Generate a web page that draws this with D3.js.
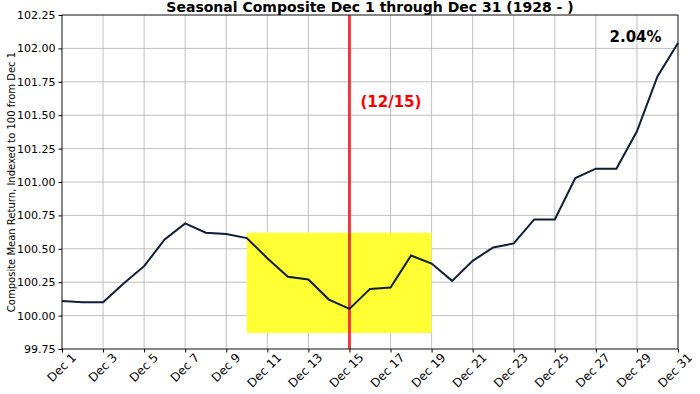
<!DOCTYPE html>
<html>
<head>
<meta charset="utf-8">
<script src="https://cdn.jsdelivr.net/npm/d3@7"></script>
<style>
	body { margin: 0; background: #fff; }
	svg text { font-family: "DejaVu Sans", sans-serif; }
</style>
</head>
<body>
<div id="chart"></div>
<script>
// Day of December and composite value (indexed to 100 on Dec 1)
const days = d3.range(1, 32);
const values = [
	100.11, 100.10, 100.10, 100.24, 100.37, 100.57, 100.69, 100.62, 100.61, 100.58,
	100.43, 100.29, 100.27, 100.12, 100.05, 100.20, 100.21, 100.45, 100.39, 100.26,
	100.41, 100.51, 100.54, 100.72, 100.72, 101.03, 101.10, 101.10, 101.38, 101.79,
	102.04
];
const xTicks = d3.range(1, 32, 2);
const yTicks = [99.75, 100.00, 100.25, 100.50, 100.75, 101.00, 101.25, 101.50, 101.75, 102.00, 102.25];
const highlight = {from: 10, to: 19, low: 99.87, high: 100.62};
const markerDay = 15;
const markerLabel = "(12/15)";
const totalLabel = "2.04%";

const W = 700, H = 394;
const margin = {top: 15, right: 22, bottom: 45, left: 62};
const width = W - margin.left - margin.right;
const height = H - margin.top - margin.bottom;

const svg = d3.select("#chart")
	.append("svg")
		.attr("width", W)
		.attr("height", H)
	.append("g")
		.attr("transform", `translate(${margin.left}, ${margin.top})`);

const x = d3.scaleLinear().domain([1, 31]).range([0, width]);
const y = d3.scaleLinear().domain([99.75, 102.25]).range([height, 0]);

// grid
svg.append("g")
	.selectAll("line")
	.data(xTicks)
	.join("line")
		.attr("x1", d => x(d)).attr("x2", d => x(d))
		.attr("y1", 0).attr("y2", height)
		.style("stroke", "#b0b0b0").style("stroke-width", 0.8);
svg.append("g")
	.selectAll("line")
	.data(yTicks)
	.join("line")
		.attr("x1", 0).attr("x2", width)
		.attr("y1", d => y(d)).attr("y2", d => y(d))
		.style("stroke", "#b0b0b0").style("stroke-width", 0.8);

// highlight window
svg.append("rect")
	.attr("x", x(highlight.from))
	.attr("width", x(highlight.to) - x(highlight.from))
	.attr("y", y(highlight.high))
	.attr("height", y(highlight.low) - y(highlight.high))
	.style("fill", "#ffff33");

// marker line
svg.append("line")
	.attr("x1", x(markerDay)).attr("x2", x(markerDay))
	.attr("y1", 0).attr("y2", height)
	.style("stroke", "#ee3b3b").style("stroke-width", 3);

// series
const line = d3.line()
	.x((d, i) => x(days[i]))
	.y(d => y(d));
svg.append("path")
	.datum(values)
	.attr("d", line)
	.style("fill", "none")
	.style("stroke", "#0d1e36")
	.style("stroke-width", 2);

// frame
svg.append("rect")
	.attr("width", width).attr("height", height)
	.style("fill", "none").style("stroke", "#000").style("stroke-width", 0.8);

// axes
const yAxis = svg.append("g")
	.call(d3.axisLeft(y).tickValues(yTicks).tickFormat(d3.format(".2f")).tickSizeOuter(0).tickSize(3.5).tickPadding(3));
yAxis.selectAll("text").style("font-size", "11px").style("fill", "#000");
yAxis.select(".domain").remove();

const xAxis = svg.append("g")
	.attr("transform", `translate(0, ${height})`)
	.call(d3.axisBottom(x).tickValues(xTicks).tickFormat(d => `Dec ${d}`).tickSizeOuter(0).tickSize(3.5));
xAxis.select(".domain").remove();
xAxis.selectAll("text")
	.style("font-size", "12px")
	.style("fill", "#000")
	.attr("text-anchor", "end")
	.attr("dx", "0.3em")
	.attr("dy", "0.85em")
	.attr("transform", "rotate(-45)");

// labels
svg.append("text")
	.attr("x", width / 2)
	.attr("y", -3)
	.attr("text-anchor", "middle")
	.style("font-size", "14px")
	.style("font-weight", "bold")
	.text("Seasonal Composite Dec 1 through Dec 31 (1928 - )");

svg.append("text")
	.attr("transform", `translate(${-47}, ${height / 2}) rotate(-90)`)
	.attr("text-anchor", "middle")
	.style("font-size", "10px")
	.text("Composite Mean Return, Indexed to 100 from Dec 1");

svg.append("text")
	.attr("x", x(markerDay) + 11)
	.attr("y", y(101.56))
	.style("font-size", "15px")
	.style("font-weight", "bold")
	.style("fill", "#ff0000")
	.text(markerLabel);

svg.append("text")
	.attr("x", x(30.2))
	.attr("y", y(102.05))
	.attr("text-anchor", "end")
	.style("font-size", "15px")
	.style("font-weight", "bold")
	.text(totalLabel);
</script>
</body>
</html>
